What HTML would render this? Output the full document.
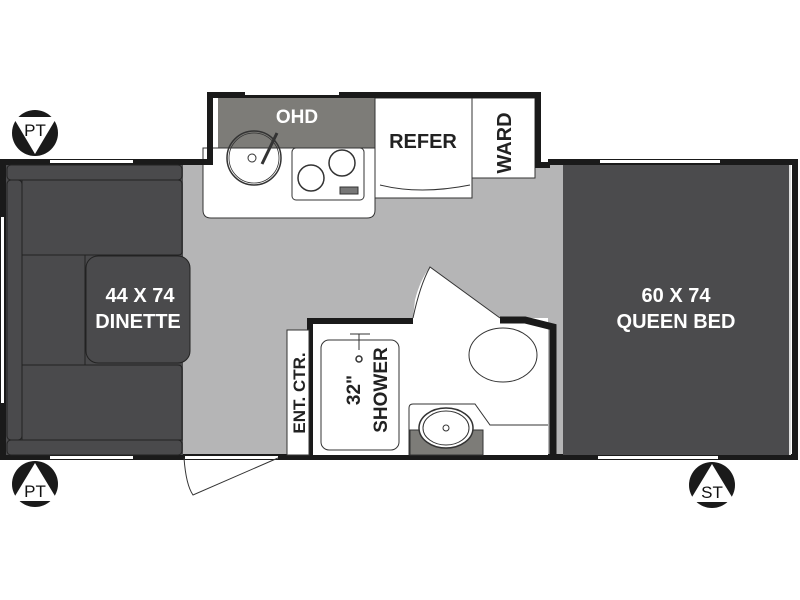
<!DOCTYPE html>
<html><head><style>body{margin:0;background:#fff}svg{display:block}text{font-family:"Liberation Sans",sans-serif;font-weight:bold}</style></head><body>
<svg width="800" height="600" viewBox="0 0 800 600" xmlns="http://www.w3.org/2000/svg">
<rect x="183" y="163" width="380" height="292" fill="#b5b5b6"/>
<rect x="208" y="98" width="330" height="67" fill="#fff"/>
<rect x="218" y="98" width="157" height="50" fill="#7d7c78"/>
<text x="297" y="123" font-size="19" fill="#fff" text-anchor="middle">OHD</text>
<path d="M203,148 H375 V210 Q375,218 367,218 H211 Q203,218 203,210 Z" fill="#fff" stroke="#333" stroke-width="1"/>
<line x1="218" y1="148" x2="375" y2="148" stroke="#333" stroke-dasharray="4,3"/>
<circle cx="254" cy="158" r="27" fill="none" stroke="#333" stroke-width="1.5"/>
<circle cx="254" cy="158" r="25" fill="none" stroke="#333" stroke-width="0.8"/>
<circle cx="252" cy="158" r="4" fill="none" stroke="#333"/>
<line x1="262" y1="164" x2="277" y2="133" stroke="#333" stroke-width="3"/>
<rect x="292" y="148" width="72" height="52" rx="4" fill="#fff" stroke="#333"/>
<circle cx="311" cy="178" r="13" fill="none" stroke="#333" stroke-width="1.5"/>
<circle cx="342" cy="163" r="13" fill="none" stroke="#333" stroke-width="1.5"/>
<rect x="340" y="187" width="18" height="7" fill="#777" stroke="#333"/>
<rect x="375" y="98" width="97" height="100" fill="#fff" stroke="#333"/>
<rect x="472" y="98" width="63" height="80" fill="#fff" stroke="#333"/>
<path d="M380,185 Q420,195 470,185" fill="none" stroke="#333"/>
<text x="423" y="148" font-size="20" fill="#222" text-anchor="middle">REFER</text>
<text transform="translate(511,143) rotate(-90)" font-size="20" fill="#222" text-anchor="middle">WARD</text>
<path d="M210,165 V95 H538 V165 H550" fill="none" stroke="#1a1a1a" stroke-width="6"/>
<rect x="245" y="92" width="94" height="3" fill="#fff"/>
<path d="M213,162 H3 V457 H795 V162 H548" fill="none" stroke="#1a1a1a" stroke-width="6"/>
<rect x="50" y="160" width="83" height="3" fill="#fff"/>
<rect x="600" y="160" width="120" height="3" fill="#fff"/>
<rect x="1" y="217" width="3" height="186" fill="#fff"/>
<rect x="50" y="456" width="83" height="3" fill="#fff"/>
<rect x="185" y="456" width="93" height="3" fill="#fff"/>
<rect x="598" y="456" width="120" height="3" fill="#fff"/>
<rect x="6" y="165" width="177" height="290" fill="#4a4a4c"/>
<g fill="#4a4a4c" stroke="#222" stroke-width="1">
<rect x="7" y="165" width="175" height="15" rx="4"/>
<rect x="7" y="180" width="15" height="260" rx="4"/>
<path d="M22,180 H178 Q182,180 182,184 V252 Q182,255 178,255 H22 Z"/>
<rect x="22" y="255" width="63" height="110"/>
<path d="M22,365 H178 Q182,365 182,369 V440 H22 Z"/>
<rect x="7" y="440" width="175" height="15" rx="4"/>
<rect x="86" y="256" width="104" height="107" rx="12"/>
</g>
<text x="140" y="302" font-size="20" fill="#fff" text-anchor="middle">44 X 74</text>
<text x="138" y="328" font-size="20" fill="#fff" text-anchor="middle">DINETTE</text>
<rect x="563" y="165" width="227" height="290" fill="#4b4b4d"/>
<rect x="789" y="165" width="2" height="290" fill="#ddd"/>
<text x="676" y="302" font-size="20" fill="#fff" text-anchor="middle">60 X 74</text>
<text x="676" y="328" font-size="20" fill="#fff" text-anchor="middle">QUEEN BED</text>
<path d="M413,318 L415,300 Q420,280 430,267 L500,318 H548 V455 H413 Z" fill="#fff"/>
<path d="M413,318 Q420,285 430,267 L500,318" fill="none" stroke="#333"/>
<rect x="312" y="320" width="101" height="135" fill="#fff"/>
<path d="M310,455 V321 H413" fill="none" stroke="#1a1a1a" stroke-width="6"/>
<path d="M500,320 H525 L553,327 V455" fill="none" stroke="#1a1a1a" stroke-width="7"/>
<rect x="287" y="330" width="22" height="125" fill="#fff" stroke="#333"/>
<text transform="translate(305,393) rotate(-90)" font-size="17" fill="#222" text-anchor="middle">ENT. CTR.</text>
<rect x="321" y="340" width="78" height="110" rx="8" fill="#fff" stroke="#333"/>
<circle cx="359" cy="359" r="3" fill="none" stroke="#333" stroke-width="1.5"/>
<path d="M350,334 H370 M359,334 V350" stroke="#333" fill="none"/>
<text transform="translate(360,390) rotate(-90)" font-size="19" fill="#222" text-anchor="middle">32"</text>
<text transform="translate(387,390) rotate(-90)" font-size="19" fill="#222" text-anchor="middle">SHOWER</text>
<ellipse cx="503" cy="355" rx="34" ry="27" fill="#fff" stroke="#333"/>
<path d="M409,455 V408 Q409,404 413,404 H475 L490,425 H548" fill="none" stroke="#333"/>
<rect x="410" y="430" width="73" height="25" fill="#7d7c78" stroke="#333"/>
<ellipse cx="446" cy="428" rx="27" ry="20" fill="#fff" stroke="#333" stroke-width="1.5"/>
<ellipse cx="446" cy="428" rx="23" ry="17" fill="none" stroke="#333"/>
<circle cx="446" cy="428" r="3" fill="none" stroke="#333"/>
<path d="M184,458 Q186,485 193,495 L278,458" fill="none" stroke="#333"/>
<g>
<circle cx="35" cy="133" r="23" fill="#1a1a1a"/><path d="M13,117 H57 L35,154 Z" fill="#fff"/>
<text x="35" y="136" font-size="17" fill="#111" text-anchor="middle" style="font-weight:normal">PT</text>
<circle cx="35" cy="484" r="23" fill="#1a1a1a"/><path d="M35,463 L58,501 H12 Z" fill="#fff"/>
<text x="35" y="497" font-size="17" fill="#111" text-anchor="middle" style="font-weight:normal">PT</text>
<circle cx="712" cy="485" r="23" fill="#1a1a1a"/><path d="M712,464 L735,502 H689 Z" fill="#fff"/>
<text x="712" y="498" font-size="17" fill="#111" text-anchor="middle" style="font-weight:normal">ST</text>
</g>
</svg>
</body></html>
